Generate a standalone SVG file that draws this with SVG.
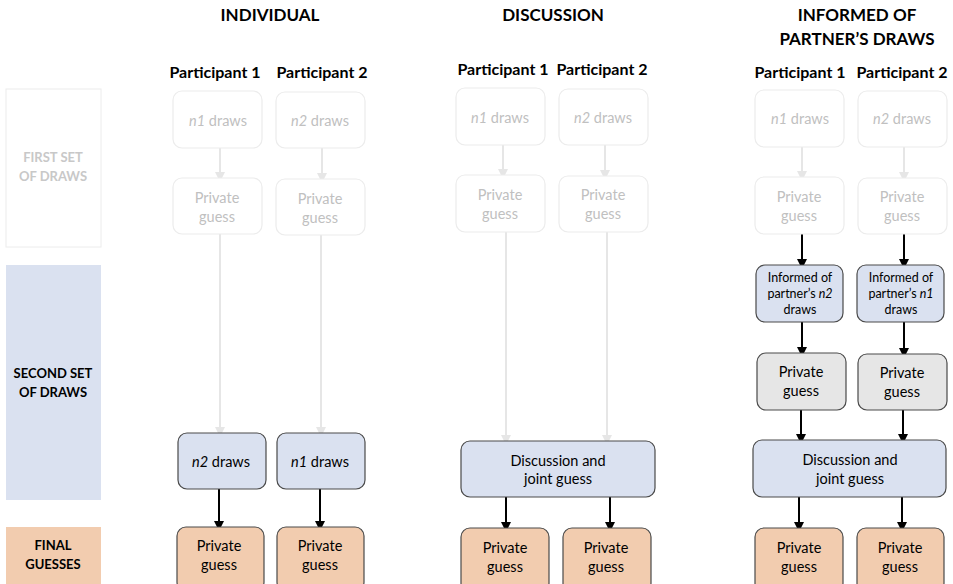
<svg xmlns="http://www.w3.org/2000/svg" width="953" height="584" viewBox="0 0 953 584">
<defs>
<marker id="ab" markerWidth="10" markerHeight="10" refX="4" refY="4" orient="auto" markerUnits="userSpaceOnUse" viewBox="0 0 8 8"><path d="M0,0 L8,4 L0,8 z" fill="#000"/></marker>
<marker id="ag" markerWidth="10" markerHeight="10" refX="4" refY="4" orient="auto" markerUnits="userSpaceOnUse" viewBox="0 0 8 8"><path d="M0,0 L8,4 L0,8 z" fill="#e6e6e6"/></marker>
</defs>
<style>
text{font-family:Lato,"Open Sans","Liberation Sans",sans-serif;text-anchor:middle}
.h{font-weight:bold;font-size:17px;fill:#000}
.p{font-weight:bold;font-size:16px;fill:#000}
.rl{font-weight:bold;font-size:13px}
.t{font-size:14.5px;fill:#000}
.ts{font-size:12.5px;fill:#000}
.f{font-size:14.5px;fill:#c0c0c0}
.faint{fill:#fff;stroke:#ececec;stroke-width:1.2}
.blue{fill:#dae1f0;stroke:#4a4a4a;stroke-width:1.2}
.orange{fill:#f2ccaf;stroke:#4a4a4a;stroke-width:1.2}
.grey{fill:#e6e6e6;stroke:#4a4a4a;stroke-width:1.2}
.cb{stroke:#000;stroke-width:2;fill:none}
.cg{stroke:#e6e6e6;stroke-width:2;fill:none}
</style>
<rect width="953" height="584" fill="#fff"/>
<!-- row labels -->
<g id="row-first"><rect x="6" y="89" width="95" height="158" fill="#fff" stroke="#ececec" stroke-width="1"/><text class="rl" x="53" y="162" fill="#c8c8c8">FIRST SET</text><text class="rl" x="53" y="181" fill="#c8c8c8">OF DRAWS</text></g>
<g id="row-second"><rect x="6" y="265" width="95" height="235" fill="#dae1f0"/><text class="rl" x="53" y="378" fill="#000">SECOND SET</text><text class="rl" x="53" y="397" fill="#000">OF DRAWS</text></g>
<g id="row-final"><rect x="6" y="527" width="95" height="57" fill="#f2ccaf"/><text class="rl" x="53" y="550" fill="#000">FINAL</text><text class="rl" x="53" y="569" fill="#000">GUESSES</text></g>
<!-- headers -->
<g id="headers">
<text class="h" x="270" y="21">INDIVIDUAL</text>
<text class="h" x="553" y="21">DISCUSSION</text>
<text class="h" x="857" y="21">INFORMED OF</text>
<text class="h" x="857" y="45">PARTNER’S DRAWS</text>
<text class="p" x="215" y="78">Participant 1</text>
<text class="p" x="322" y="78">Participant 2</text>
<text class="p" x="503" y="75">Participant 1</text>
<text class="p" x="602" y="75">Participant 2</text>
<text class="p" x="800" y="78">Participant 1</text>
<text class="p" x="902" y="78">Participant 2</text>
</g>
<!-- connectors -->
<g id="connectors">
<line class="cg" x1="220" y1="148" x2="220" y2="177" marker-end="url(#ag)"/>
<line class="cg" x1="322" y1="148" x2="322" y2="178" marker-end="url(#ag)"/>
<line class="cg" x1="220" y1="234" x2="220" y2="432" marker-end="url(#ag)"/>
<line class="cg" x1="321" y1="235" x2="321" y2="432" marker-end="url(#ag)"/>
<line class="cb" x1="219" y1="489" x2="219" y2="526" marker-end="url(#ab)"/>
<line class="cb" x1="320" y1="489" x2="320" y2="526" marker-end="url(#ab)"/>
<line class="cg" x1="503" y1="145" x2="503" y2="174" marker-end="url(#ag)"/>
<line class="cg" x1="605" y1="145" x2="605" y2="175" marker-end="url(#ag)"/>
<line class="cg" x1="506" y1="232" x2="506" y2="440" marker-end="url(#ag)"/>
<line class="cg" x1="607" y1="232" x2="607" y2="440" marker-end="url(#ag)"/>
<line class="cb" x1="506" y1="497" x2="506" y2="527" marker-end="url(#ab)"/>
<line class="cb" x1="610" y1="497" x2="610" y2="527" marker-end="url(#ab)"/>
<line class="cg" x1="802" y1="147" x2="802" y2="176" marker-end="url(#ag)"/>
<line class="cg" x1="904" y1="147" x2="904" y2="177" marker-end="url(#ag)"/>
<line class="cb" x1="802" y1="234" x2="802" y2="264" marker-end="url(#ab)"/>
<line class="cb" x1="904" y1="234" x2="904" y2="264" marker-end="url(#ab)"/>
<line class="cb" x1="802" y1="322" x2="802" y2="352" marker-end="url(#ab)"/>
<line class="cb" x1="904" y1="322" x2="904" y2="353" marker-end="url(#ab)"/>
<line class="cb" x1="801" y1="410" x2="801" y2="439" marker-end="url(#ab)"/>
<line class="cb" x1="903" y1="410" x2="903" y2="439" marker-end="url(#ab)"/>
<line class="cb" x1="799" y1="497" x2="799" y2="527" marker-end="url(#ab)"/>
<line class="cb" x1="902" y1="497" x2="902" y2="527" marker-end="url(#ab)"/>
</g>
<!-- INDIVIDUAL -->
<g id="ind-p1-draws"><rect class="faint" x="173" y="91" width="89" height="57" rx="9"/><text class="f" x="218" y="126"><tspan font-style="italic">n1</tspan> draws</text></g>
<g id="ind-p2-draws"><rect class="faint" x="276" y="92" width="89" height="56" rx="9"/><text class="f" x="320" y="126"><tspan font-style="italic">n2</tspan> draws</text></g>
<g id="ind-p1-guess"><rect class="faint" x="173" y="178" width="89" height="56" rx="9"/><text class="f" x="217" y="203">Private</text><text class="f" x="217" y="222">guess</text></g>
<g id="ind-p2-guess"><rect class="faint" x="276" y="179" width="89" height="56" rx="9"/><text class="f" x="320" y="204">Private</text><text class="f" x="320" y="223">guess</text></g>
<g id="ind-p1-draws2"><rect class="blue" x="178" y="433" width="88" height="56" rx="9"/><text class="t" x="221" y="467"><tspan font-style="italic">n2</tspan> draws</text></g>
<g id="ind-p2-draws2"><rect class="blue" x="277" y="433" width="88" height="56" rx="9"/><text class="t" x="320" y="467"><tspan font-style="italic">n1</tspan> draws</text></g>
<g id="ind-p1-final"><rect class="orange" x="177" y="527" width="87" height="64" rx="9"/><text class="t" x="219" y="551">Private</text><text class="t" x="219" y="570">guess</text></g>
<g id="ind-p2-final"><rect class="orange" x="277" y="527" width="87" height="64" rx="9"/><text class="t" x="320" y="551">Private</text><text class="t" x="320" y="570">guess</text></g>
<!-- DISCUSSION -->
<g id="dis-p1-draws"><rect class="faint" x="456" y="88" width="89" height="57" rx="9"/><text class="f" x="500" y="123"><tspan font-style="italic">n1</tspan> draws</text></g>
<g id="dis-p2-draws"><rect class="faint" x="559" y="89" width="89" height="56" rx="9"/><text class="f" x="603" y="123"><tspan font-style="italic">n2</tspan> draws</text></g>
<g id="dis-p1-guess"><rect class="faint" x="456" y="175" width="89" height="57" rx="9"/><text class="f" x="500" y="200">Private</text><text class="f" x="500" y="219">guess</text></g>
<g id="dis-p2-guess"><rect class="faint" x="559" y="176" width="89" height="56" rx="9"/><text class="f" x="603" y="200">Private</text><text class="f" x="603" y="219">guess</text></g>
<g id="dis-joint"><rect class="blue" x="461" y="441" width="194" height="56" rx="9"/><text class="t" x="558" y="466">Discussion and</text><text class="t" x="558" y="484">joint guess</text></g>
<g id="dis-p1-final"><rect class="orange" x="461" y="528" width="88" height="64" rx="9"/><text class="t" x="505" y="553">Private</text><text class="t" x="505" y="572">guess</text></g>
<g id="dis-p2-final"><rect class="orange" x="563" y="528" width="88" height="64" rx="9"/><text class="t" x="606" y="553">Private</text><text class="t" x="606" y="572">guess</text></g>
<!-- INFORMED -->
<g id="inf-p1-draws"><rect class="faint" x="755" y="90" width="89" height="57" rx="9"/><text class="f" x="800" y="124"><tspan font-style="italic">n1</tspan> draws</text></g>
<g id="inf-p2-draws"><rect class="faint" x="858" y="91" width="89" height="56" rx="9"/><text class="f" x="902" y="124"><tspan font-style="italic">n2</tspan> draws</text></g>
<g id="inf-p1-guess"><rect class="faint" x="755" y="177" width="89" height="57" rx="9"/><text class="f" x="799" y="202">Private</text><text class="f" x="799" y="221">guess</text></g>
<g id="inf-p2-guess"><rect class="faint" x="858" y="178" width="89" height="56" rx="9"/><text class="f" x="902" y="202">Private</text><text class="f" x="902" y="221">guess</text></g>
<g id="inf-p1-informed"><rect class="blue" x="756" y="265" width="87" height="57" rx="9"/><text class="ts" x="800" y="282">Informed of</text><text class="ts" x="800" y="298">partner’s <tspan font-style="italic">n2</tspan></text><text class="ts" x="800" y="314">draws</text></g>
<g id="inf-p2-informed"><rect class="blue" x="857" y="265" width="87" height="57" rx="9"/><text class="ts" x="901" y="282">Informed of</text><text class="ts" x="901" y="298">partner’s <tspan font-style="italic">n1</tspan></text><text class="ts" x="901" y="314">draws</text></g>
<g id="inf-p1-guess2"><rect class="grey" x="757" y="353" width="89" height="57" rx="9"/><text class="t" x="801" y="377">Private</text><text class="t" x="801" y="396">guess</text></g>
<g id="inf-p2-guess2"><rect class="grey" x="858" y="354" width="89" height="56" rx="9"/><text class="t" x="902" y="378">Private</text><text class="t" x="902" y="397">guess</text></g>
<g id="inf-joint"><rect class="blue" x="753" y="440" width="193" height="57" rx="9"/><text class="t" x="850" y="465">Discussion and</text><text class="t" x="850" y="484">joint guess</text></g>
<g id="inf-p1-final"><rect class="orange" x="755" y="528" width="88" height="64" rx="9"/><text class="t" x="799" y="553">Private</text><text class="t" x="799" y="572">guess</text></g>
<g id="inf-p2-final"><rect class="orange" x="857" y="528" width="87" height="64" rx="9"/><text class="t" x="900" y="553">Private</text><text class="t" x="900" y="572">guess</text></g>
</svg>
